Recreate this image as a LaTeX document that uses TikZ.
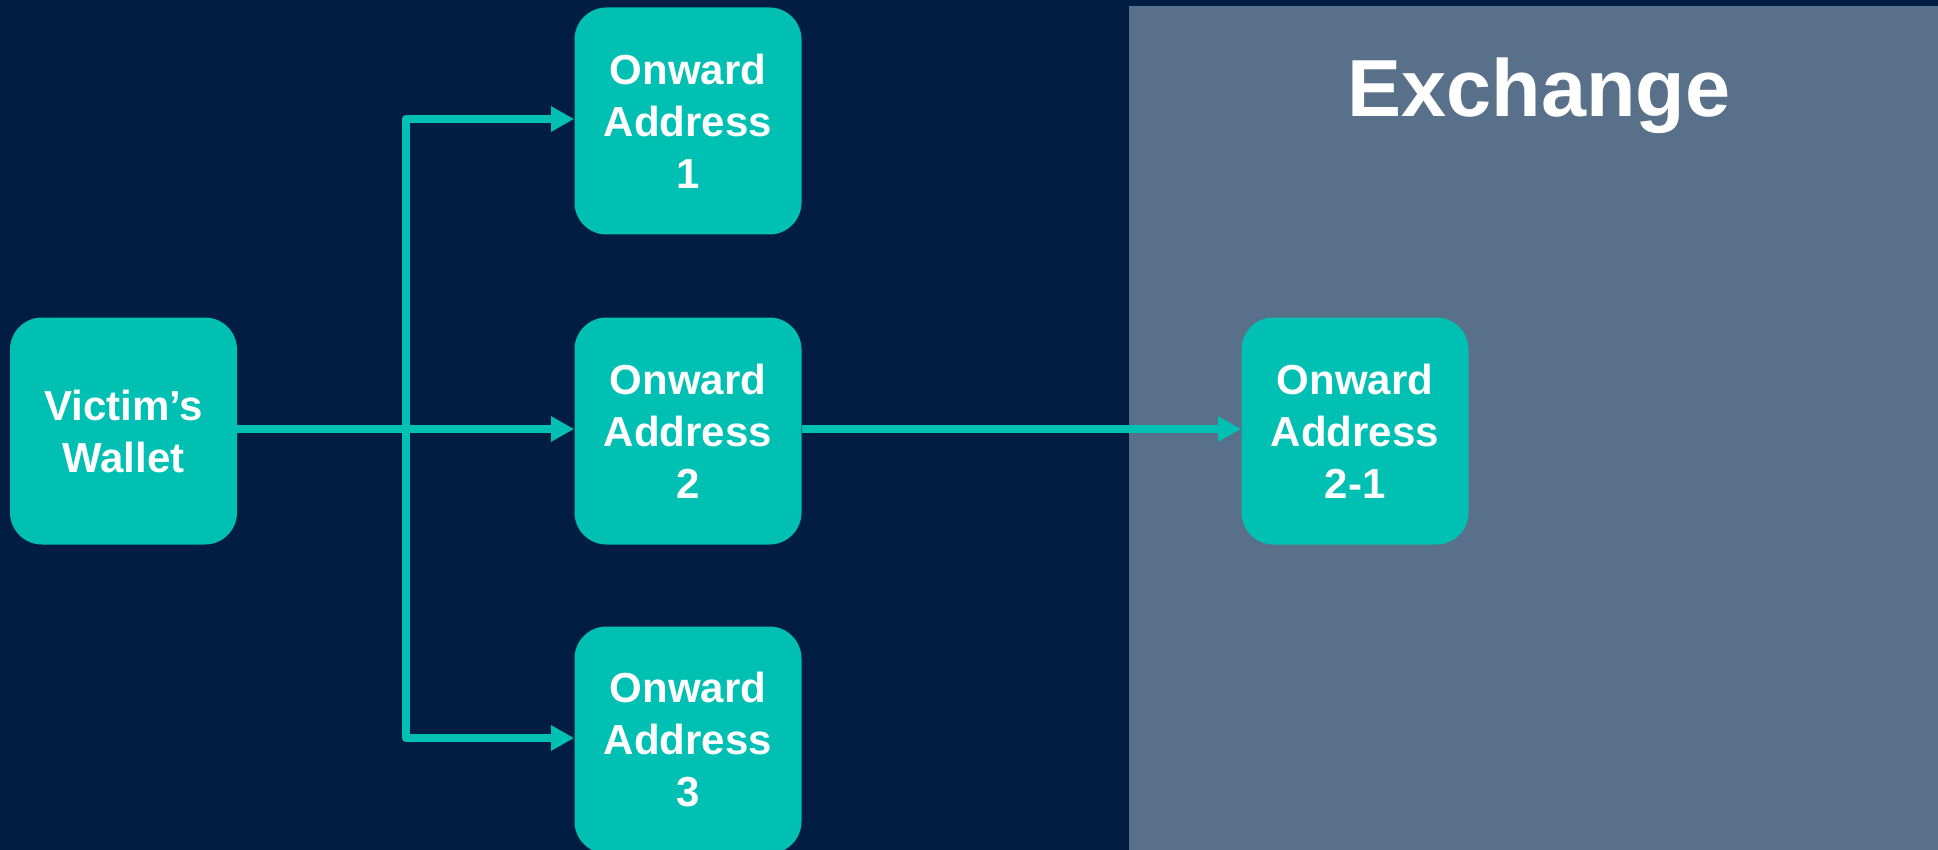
\documentclass[tikz,border=0pt]{standalone}
\usepackage{fontspec}
\setmainfont{Liberation Sans}
\usetikzlibrary{arrows.meta}

\definecolor{navybg}{HTML}{021D42}
\definecolor{exchgrey}{HTML}{587089}
\definecolor{walletteal}{HTML}{00BFB3}

\tikzset{
    addrbox/.style={fill=walletteal, text=white, rounded corners=16pt,
        minimum width=113.5pt, minimum height=113.5pt, align=center,
        font=\bfseries\fontsize{21pt}{26pt}\selectfont},
    flow/.style={draw=walletteal, line width=4pt, line join=round,
        -{Triangle[length=11.5pt,width=12pt]}}
}

\begin{document}
\begin{tikzpicture}[x=0.5pt, y=-0.5pt]% [ show background grid ]
    \useasboundingbox (0,0) rectangle (1938,850);
    \fill[navybg] (0,0) rectangle (1938,850);
    \fill[exchgrey] (1129,6) rectangle (1938,850);

    \node[text=white, font=\bfseries\fontsize{40.5pt}{48pt}\selectfont] (exchange) at (1539,96) {Exchange};

    \node[addrbox] (wallet) at (123.5,431) {Victim's\\Wallet};

    \node[addrbox] (addr1) at (688,121) {Onward\\Address\\1};
    \node[addrbox] (addr2) at (688,431) {Onward\\Address\\2};
    \node[addrbox] (addr3) at (688,740) {Onward\\Address\\3};

    \node[addrbox] (addr21) at (1355,431) {Onward\\Address\\2-1};

    \coordinate (split) at (406,429);

    \draw[flow] (wallet.east |- split) -- (addr2.west |- split);
    \draw[flow] (split) |- ([yshift=1pt]addr1.west);
    \draw[flow] (split) |- ([yshift=1pt]addr3.west);
    \draw[flow] (addr2.east |- split) -- (addr21.west |- split);

\end{tikzpicture}
\end{document}
